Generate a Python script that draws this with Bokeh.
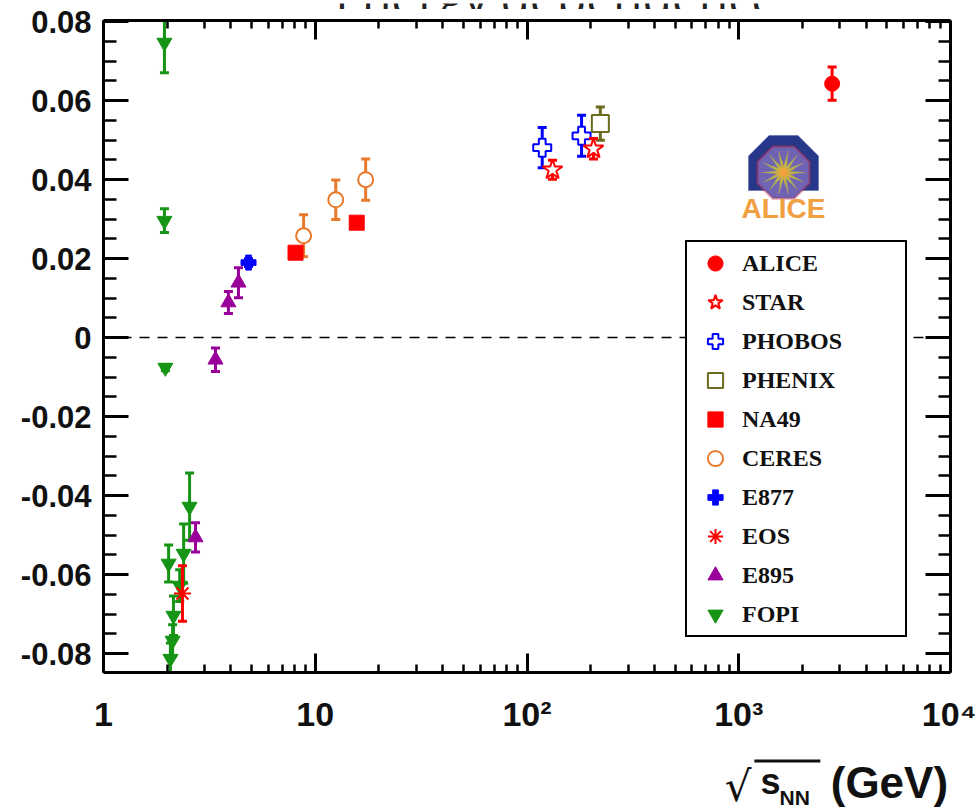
import numpy as np
from bokeh.plotting import figure
from bokeh.layouts import column
from bokeh.models import (Range1d, LinearAxis, LogAxis, FixedTicker,
                          CustomJSTickFormatter, Span, Label, Legend,
                          LegendItem, PolyAnnotation)
from bokeh.core.properties import value
from bokeh.embed import file_html
from bokeh.resources import INLINE

# ---------------- data ----------------
alice_x = [2760.0]
alice_y = [0.0643]
alice_err = [0.0042]

star_x = [132.0, 206.0]
star_y = [0.0425, 0.0478]
star_err = [0.0024, 0.0026]

phobos_x = [118.0, 181.0]
phobos_y = [0.0481, 0.0511]
phobos_err = [0.0051, 0.0052]

phenix_x = [222.0]
phenix_y = [0.0542]
phenix_err = [0.0042]

na49_x = [8.07, 15.7]
na49_y = [0.0215, 0.0291]
na49_err = [0.0006, 0.0006]

ceres_x = [8.81, 12.5, 17.3]
ceres_y = [0.0258, 0.0349, 0.0400]
ceres_err = [0.0053, 0.0050, 0.0052]

e877_x = [4.84]
e877_y = [0.0190]
e877_err = [0.0010]

eos_x = [2.36]
eos_y = [-0.0648]
eos_err = [0.0070]

e895_x = [2.72, 3.38, 3.89, 4.34]
e895_y = [-0.0506, -0.0056, 0.0089, 0.0139]
e895_err = [0.0037, 0.0030, 0.0028, 0.0038]

fopi_x = [1.94, 1.94, 1.96, 2.03, 2.07, 2.12, 2.14, 2.29, 2.39, 2.55]
fopi_y = [0.0747, 0.0296, -0.0076, -0.0572, -0.0813, -0.0767, -0.0704,
          -0.0628, -0.0547, -0.0428]
fopi_err = [0.0076, 0.0030, 0.0008, 0.0047, 0.0040, 0.0040, 0.0050,
            0.0040, 0.0075, 0.0085]

x_ticks = [1, 10, 100, 1000, 10000]
x_tick_labels = ["1", "10", "10\u00b2", "10\u00b3", "10\u2074"]
x_minor = [m * 10 ** k for k in range(4) for m in range(2, 10)]
y_ticks = [-0.08, -0.06, -0.04, -0.02, 0.0, 0.02, 0.04, 0.06, 0.08]
y_tick_labels = ["-0.08", "-0.06", "-0.04", "-0.02", "0",
                 "0.02", "0.04", "0.06", "0.08"]
y_minor = [round(-0.085 + 0.005 * i, 3) for i in range(34)]

title_text = "Energy dependence"
xlabel_parts = ["\u221a", "s", "NN", "(GeV)"]
legend_names = ["ALICE", "STAR", "PHOBOS", "PHENIX", "NA49", "CERES",
                "E877", "EOS", "E895", "FOPI"]

# ---------------- geometry of the page ----------------
W, H = 976, 810
TOP_H = 9             # strip holding the cropped title
BOT_H = 65            # strip holding the x-axis title
MAIN_H = H - TOP_H - BOT_H
FL, FR, FT, FB = 103, 950, 20, 672   # frame edges on the page

# ---------------- main figure ----------------
p = figure(width=W, height=MAIN_H, x_axis_type="log",
           x_range=Range1d(1, 1e4), y_range=Range1d(-0.0848, 0.0803),
           output_backend="svg", toolbar_location=None,
           min_border_left=FL, min_border_right=W - FR,
           min_border_top=FT - TOP_H, min_border_bottom=TOP_H + MAIN_H - FB)
p.grid.visible = False
p.outline_line_color = None
p.background_fill_color = "white"
p.border_fill_color = "white"

fmt_code = """
for (let i = 0; i < vals.length; i++) {
  if (Math.abs(vals[i] - tick) <= 1e-6 * Math.max(1, Math.abs(vals[i]))) return labs[i];
}
return "";
"""
xfmt = CustomJSTickFormatter(args=dict(vals=x_ticks, labs=x_tick_labels), code=fmt_code)
yfmt = CustomJSTickFormatter(args=dict(vals=y_ticks, labs=y_tick_labels), code=fmt_code)
blank = CustomJSTickFormatter(code="return '';")


def style_axis(ax, tin, mtin):
    ax.axis_line_width = 3
    ax.axis_line_color = "black"
    ax.major_tick_in = tin
    ax.major_tick_out = 0
    ax.minor_tick_in = mtin
    ax.minor_tick_out = 0
    ax.major_tick_line_width = 3
    ax.minor_tick_line_width = 2.5
    ax.major_tick_line_color = "black"
    ax.minor_tick_line_color = "black"


xa = p.xaxis[0]
xa.ticker = FixedTicker(ticks=x_ticks, minor_ticks=x_minor)
xa.formatter = xfmt
style_axis(xa, 19, 8)
xa.major_label_text_font = "Liberation Sans"
xa.major_label_text_font_style = "bold"
xa.major_label_text_font_size = "34px"
xa.major_label_text_color = "#111111"
xa.major_label_standoff = 22

ya = p.yaxis[0]
ya.ticker = FixedTicker(ticks=y_ticks, minor_ticks=y_minor)
ya.formatter = yfmt
style_axis(ya, 25, 13)
ya.major_label_text_font = "Liberation Sans"
ya.major_label_text_font_style = "bold"
ya.major_label_text_font_size = "31px"
ya.major_label_text_color = "#111111"
ya.major_label_standoff = 12

top = LogAxis(ticker=FixedTicker(ticks=x_ticks, minor_ticks=x_minor),
              formatter=blank, major_label_text_font_size="1px",
              major_label_standoff=0)
style_axis(top, 19, 8)
p.add_layout(top, "above")

right = LinearAxis(ticker=FixedTicker(ticks=y_ticks, minor_ticks=y_minor),
                   formatter=blank, major_label_text_font_size="1px",
                   major_label_standoff=0)
style_axis(right, 25, 12)
p.add_layout(right, "right")

zero = Span(location=0, dimension="width", line_color="black",
            line_width=1.5, line_dash="10 8")
zero.level = "underlay"
p.add_layout(zero)


def series(x, y, e, color, marker, size, fill, lw=2.0):
    lo = [a - b for a, b in zip(y, e)]
    hi = [a + b for a, b in zip(y, e)]
    p.segment(x0=x, y0=lo, x1=x, y1=hi, line_color=color, line_width=3)
    p.scatter(x=list(x) + list(x), y=lo + hi, marker="dash", size=9,
              line_color=color, line_width=3)
    return p.scatter(x=x, y=y, marker=marker, size=size, fill_color=fill,
                     line_color=color, line_width=lw)


GREEN = "#159415"
PURPLE = "#990099"
RED = "#ff0000"
BLUE = "#0000ff"
ORANGE = "#e97a2c"
OLIVE = "#6b6b1f"

r_fopi = series(fopi_x, fopi_y, fopi_err, GREEN, "inverted_triangle", 15, GREEN, 1)
r_e895 = series(e895_x, e895_y, e895_err, PURPLE, "triangle", 15, PURPLE, 1)
r_eos = series(eos_x, eos_y, eos_err, RED, "asterisk", 17, RED, 2)
r_e877 = series(e877_x, e877_y, e877_err, BLUE, "plus", 15, BLUE, 1)
r_ceres = series(ceres_x, ceres_y, ceres_err, ORANGE, "circle", 15, "white", 2)
r_na49 = series(na49_x, na49_y, na49_err, RED, "square", 15, RED, 1)
r_phenix = series(phenix_x, phenix_y, phenix_err, OLIVE, "square", 17, "white", 2)
r_phobos = series(phobos_x, phobos_y, phobos_err, BLUE, "plus", 18, "white", 2)
r_star = series(star_x, star_y, star_err, RED, "star", 21, "white", 2)
r_alice = series(alice_x, alice_y, alice_err, RED, "circle", 15, RED, 1)

renderers = [r_alice, r_star, r_phobos, r_phenix, r_na49, r_ceres,
             r_e877, r_eos, r_e895, r_fopi]

# ---------------- legend ----------------
LEG_L, LEG_B = 685, 637
legend = Legend(items=[LegendItem(label=n, renderers=[r])
                       for n, r in zip(legend_names, renderers)],
                location=(LEG_L - FL, FB - LEG_B),
                glyph_width=52, glyph_height=38, label_height=38,
                spacing=1, padding=2, margin=0, label_standoff=1,
                label_width=161,
                label_text_font="Liberation Serif",
                label_text_font_style="bold",
                label_text_font_size="24px",
                label_text_color="#111111",
                border_line_color="black", border_line_width=2.5,
                border_line_alpha=1.0,
                background_fill_color="white", background_fill_alpha=1.0)
p.add_layout(legend)


# ---------------- ALICE logo (decoration, frame-relative screen units) ----
def sx(cx):
    return cx - FL


def sy(cy):
    return FB - cy


lcx, lcy = 783, 170
a_out, d_leg = 35, 20
b_out = a_out * np.tan(np.pi / 8)
arch_x = [lcx - a_out, lcx - a_out, lcx - b_out, lcx + b_out, lcx + a_out, lcx + a_out]
arch_y = [lcy + d_leg, lcy - b_out, lcy - a_out, lcy - a_out, lcy - b_out, lcy + d_leg]
p.add_layout(PolyAnnotation(xs=[sx(v) for v in arch_x], ys=[sy(v) for v in arch_y],
                            xs_units="screen", ys_units="screen",
                            fill_color="#27388a", fill_alpha=1.0,
                            line_color="#27388a", line_width=1))

ang = np.pi / 8 + np.arange(8) * np.pi / 4
R_in = 26 / np.cos(np.pi / 8)
oct_x = lcx + R_in * np.cos(ang)
oct_y = lcy + 2 + R_in * np.sin(ang)
p.add_layout(PolyAnnotation(xs=[sx(v) for v in oct_x], ys=[sy(v) for v in oct_y],
                            xs_units="screen", ys_units="screen",
                            fill_color="#6f64b4", fill_alpha=1.0,
                            line_color="#c8203c", line_width=3))
n_sp = 14
sang = np.arange(2 * n_sp) * np.pi / n_sp
srad = np.where(np.arange(2 * n_sp) % 2 == 0, 22, 6)
st_x = lcx + srad * np.cos(sang)
st_y = lcy + 2 + srad * np.sin(sang)
p.add_layout(PolyAnnotation(xs=[sx(v) for v in st_x], ys=[sy(v) for v in st_y],
                            xs_units="screen", ys_units="screen",
                            fill_color="#9fc84a", fill_alpha=0.9,
                            line_color="#e8a43a", line_width=1))
st2_x = lcx + 0.55 * srad * np.cos(sang + 0.1)
st2_y = lcy + 2 + 0.55 * srad * np.sin(sang + 0.1)
p.add_layout(PolyAnnotation(xs=[sx(v) for v in st2_x], ys=[sy(v) for v in st2_y],
                            xs_units="screen", ys_units="screen",
                            fill_color="#f2a23a", fill_alpha=1.0,
                            line_color="#f2a23a", line_width=1))
p.add_layout(Label(x=sx(783), y=sy(208), x_units="screen", y_units="screen",
                   text="ALICE", text_align="center", text_baseline="alphabetic",
                   text_font="Liberation Sans", text_font_style="bold",
                   text_font_size="28px", text_color="#f0a040"))


# ---------------- strips above and below (texts outside the frame) ------
def strip(h, y_top):
    f = figure(width=W, height=h, x_range=Range1d(0, W),
               y_range=Range1d(y_top + h, y_top),
               output_backend="svg", toolbar_location=None,
               x_axis_location=None, y_axis_location=None,
               min_border=0, min_border_left=0, min_border_right=0,
               min_border_top=0, min_border_bottom=0)
    f.grid.visible = False
    f.outline_line_color = None
    f.background_fill_color = "white"
    f.border_fill_color = "white"
    return f


pt = strip(TOP_H, 0)
pt.text(x=[267], y=[-6], text=[title_text], text_font=value("Open Sans"),
        text_font_size="48px", text_color="#222222",
        text_baseline="alphabetic", text_align="left")

pb = strip(BOT_H, TOP_H + MAIN_H)
pb.text(x=[716], y=[786], text=[xlabel_parts[0]], text_font=value("DejaVu Sans"),
        text_font_size="42px", text_color="#111111", text_baseline="alphabetic")
pb.segment(x0=[750], y0=[760.5], x1=[826], y1=[760.5], line_color="#111111",
           line_width=3)
pb.text(x=[757], y=[781], text=[xlabel_parts[1]], text_font=value("Liberation Sans"),
        text_font_style="bold", text_font_size="36px", text_color="#111111",
        text_baseline="alphabetic")
pb.text(x=[779], y=[797], text=[xlabel_parts[2]], text_font=value("Liberation Sans"),
        text_font_style="bold", text_font_size="21px", text_color="#111111",
        text_baseline="alphabetic")
pb.text(x=[838], y=[782], text=[xlabel_parts[3]], text_font=value("Liberation Sans"),
        text_font_style="bold", text_font_size="44px", text_color="#111111",
        text_baseline="alphabetic")

layout = column(pt, p, pb, spacing=0)
open("out.html", "w").write(file_html(layout, INLINE))
